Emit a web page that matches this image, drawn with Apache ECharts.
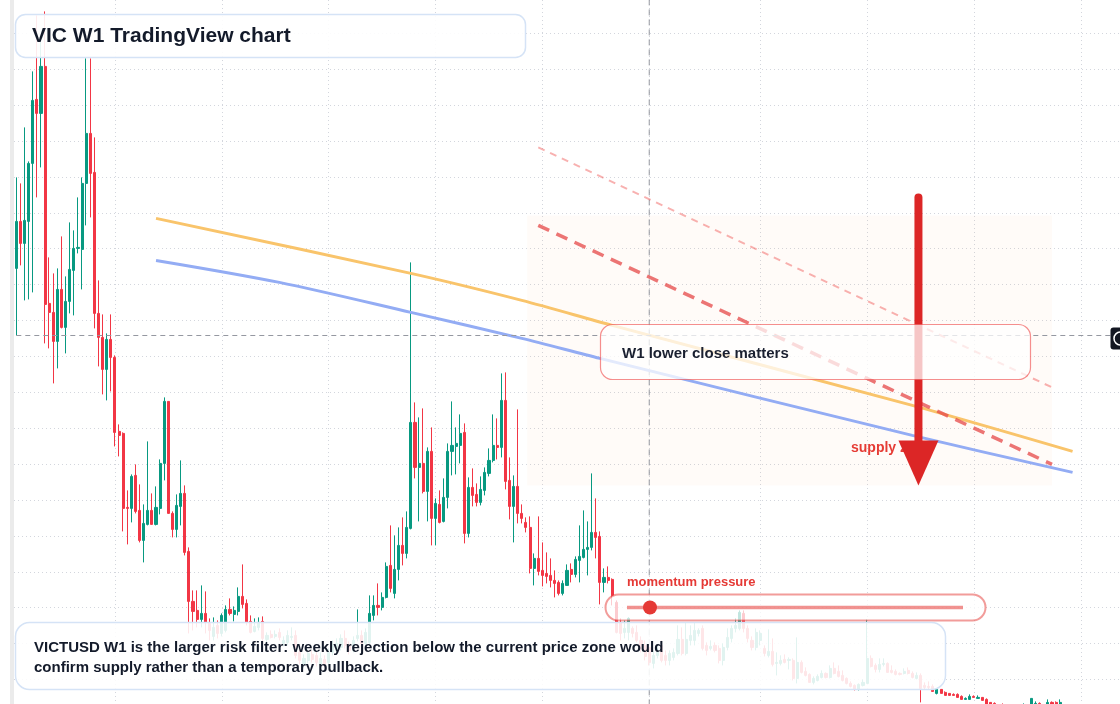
<!DOCTYPE html>
<html>
<head>
<meta charset="utf-8">
<title>VIC W1 TradingView chart</title>
<script src="https://cdn.jsdelivr.net/npm/echarts@6.0.0/dist/echarts.min.js"></script>
<style>
html,body{margin:0;padding:0;background:#fff;}
#chart{width:1120px;height:704px;}
</style>
</head>
<body>
<div id="chart"></div>
<script>
// weekly VICTUSD candles (price units are arbitrary)
var opens = [
 0.447,0.494,0.472,0.494,0.552,0.616,0.602,0.649,0.412,0.403,
 0.374,0.426,0.388,0.414,0.445,0.467,0.466,0.532,0.582,0.543,
 0.402,0.378,0.346,0.376,0.358,0.284,0.282,0.208,0.207,0.240,
 0.205,0.175,0.191,0.205,0.191,0.207,0.252,0.314,0.202,0.186,
 0.209,0.222,0.164,0.114,0.105,0.096,0.102,0.092,0.079,0.090,
 0.082,0.085,0.106,0.101,0.104,0.119,0.112,0.094,0.084,0.088,
 0.094,0.076,0.081,0.079,0.083,0.072,0.073,0.078,0.080,0.063,
 0.051,0.055,0.061,0.060,0.051,0.056,0.053,0.063,0.065,0.068,
 0.077,0.070,0.065,0.077,0.080,0.072,0.073,0.100,0.110,0.108,
 0.118,0.150,0.122,0.146,0.170,0.162,0.187,0.293,0.248,0.252,
 0.224,0.264,0.197,0.211,0.194,0.218,0.264,0.269,0.270,0.283,
 0.182,0.228,0.221,0.213,0.225,0.242,0.255,0.270,0.268,0.315,
 0.235,0.209,0.229,0.202,0.193,0.188,0.147,0.157,0.145,0.142,
 0.140,0.135,0.133,0.122,0.130,0.146,0.141,0.155,0.158,0.166,
 0.168,0.183,0.179,0.133,0.138,0.136,0.113,0.093,0.083,0.083,
 0.087,0.083,0.075,0.070,0.068,0.052,0.060,0.070,0.060,0.055,
 0.058,0.062,0.076,0.062,0.075,0.075,0.082,0.087,0.070,0.067,
 0.070,0.067,0.055,0.068,0.077,0.087,0.087,0.102,0.087,0.075,
 0.068,0.075,0.067,0.060,0.064,0.052,0.052,0.056,0.055,0.055,
 0.037,0.053,0.044,0.041,0.033,0.035,0.038,0.042,0.038,0.047,
 0.044,0.040,0.037,0.032,0.030,0.026,0.030,0.032,0.057,0.050,
 0.046,0.051,0.052,0.045,0.044,0.042,0.042,0.045,0.042,0.037,
 0.040,0.030,0.029,0.029,0.022,0.026,0.023,0.022,0.021,0.021,
 0.019,0.016,0.016,0.019,0.017,0.018,0.016,0.013,0.012,0.010,
 0.009,0.006,0.008,0.007,0.005,0.006,0.010,0.007,0.011,0.012,
 0.010,0.009,0.013,0.013,0.010
];
var closes = [
 0.494,0.472,0.495,0.552,0.615,0.602,0.649,0.411,0.403,0.374,
 0.426,0.388,0.414,0.446,0.467,0.468,0.532,0.582,0.542,0.402,
 0.378,0.346,0.376,0.358,0.283,0.280,0.207,0.207,0.239,0.204,
 0.175,0.192,0.205,0.191,0.208,0.252,0.314,0.202,0.186,0.210,
 0.222,0.163,0.114,0.104,0.096,0.102,0.093,0.085,0.088,0.082,
 0.100,0.106,0.102,0.105,0.119,0.111,0.093,0.083,0.089,0.093,
 0.077,0.080,0.078,0.081,0.078,0.075,0.080,0.079,0.060,0.055,
 0.057,0.062,0.056,0.053,0.057,0.050,0.063,0.070,0.072,0.077,
 0.070,0.065,0.075,0.080,0.072,0.083,0.102,0.110,0.108,0.118,
 0.149,0.127,0.146,0.170,0.162,0.188,0.293,0.248,0.252,0.224,
 0.264,0.197,0.212,0.193,0.218,0.264,0.270,0.272,0.282,0.182,
 0.228,0.220,0.213,0.226,0.243,0.255,0.270,0.268,0.315,0.234,
 0.209,0.229,0.202,0.197,0.188,0.147,0.157,0.144,0.140,0.139,
 0.135,0.132,0.122,0.132,0.145,0.141,0.156,0.159,0.166,0.168,
 0.183,0.178,0.133,0.138,0.135,0.120,0.083,0.082,0.087,0.097,
 0.082,0.075,0.067,0.059,0.053,0.060,0.065,0.055,0.055,0.062,
 0.063,0.076,0.062,0.076,0.080,0.085,0.085,0.067,0.065,0.069,
 0.065,0.055,0.068,0.078,0.087,0.090,0.103,0.087,0.077,0.068,
 0.083,0.082,0.062,0.064,0.051,0.053,0.055,0.053,0.056,0.037,
 0.053,0.043,0.040,0.033,0.037,0.039,0.042,0.038,0.047,0.042,
 0.039,0.035,0.032,0.029,0.026,0.031,0.033,0.057,0.049,0.046,
 0.051,0.052,0.043,0.043,0.041,0.041,0.044,0.042,0.038,0.040,
 0.027,0.028,0.028,0.024,0.026,0.022,0.020,0.020,0.020,0.018,
 0.016,0.017,0.019,0.018,0.018,0.015,0.011,0.011,0.009,0.007,
 0.008,0.008,0.006,0.005,0.007,0.010,0.008,0.017,0.012,0.009,
 0.007,0.013,0.011,0.010,0.013
];
var lows = [
 0.380,0.450,0.415,0.416,0.423,0.518,0.548,0.372,0.367,0.332,
 0.347,0.387,0.362,0.402,0.400,0.462,0.426,0.490,0.498,0.387,
 0.349,0.321,0.315,0.324,0.269,0.259,0.184,0.171,0.193,0.202,
 0.173,0.153,0.190,0.191,0.190,0.201,0.235,0.202,0.178,0.178,
 0.190,0.160,0.082,0.085,0.088,0.088,0.082,0.075,0.075,0.077,
 0.079,0.083,0.100,0.094,0.100,0.107,0.090,0.082,0.083,0.085,
 0.073,0.073,0.077,0.077,0.075,0.069,0.070,0.075,0.057,0.051,
 0.047,0.052,0.053,0.049,0.047,0.047,0.049,0.060,0.061,0.065,
 0.067,0.061,0.063,0.074,0.069,0.069,0.070,0.095,0.100,0.105,
 0.117,0.123,0.117,0.135,0.150,0.157,0.186,0.237,0.194,0.222,
 0.194,0.170,0.170,0.192,0.193,0.207,0.240,0.241,0.252,0.172,
 0.178,0.209,0.209,0.210,0.220,0.239,0.253,0.256,0.258,0.226,
 0.196,0.173,0.192,0.192,0.183,0.142,0.130,0.140,0.129,0.132,
 0.128,0.118,0.120,0.120,0.130,0.133,0.138,0.133,0.157,0.140,
 0.165,0.157,0.111,0.123,0.132,0.110,0.082,0.075,0.077,0.075,
 0.078,0.073,0.063,0.055,0.050,0.047,0.057,0.053,0.050,0.050,
 0.055,0.060,0.060,0.060,0.070,0.070,0.079,0.065,0.060,0.065,
 0.063,0.052,0.050,0.065,0.073,0.083,0.085,0.083,0.073,0.065,
 0.065,0.070,0.059,0.058,0.049,0.040,0.050,0.052,0.046,0.035,
 0.032,0.042,0.039,0.033,0.031,0.034,0.037,0.037,0.037,0.041,
 0.038,0.034,0.031,0.028,0.025,0.025,0.029,0.032,0.048,0.043,
 0.043,0.049,0.043,0.042,0.040,0.040,0.041,0.041,0.037,0.036,
 0.013,0.026,0.026,0.024,0.021,0.022,0.020,0.020,0.020,0.018,
 0.016,0.016,0.016,0.018,0.017,0.015,0.011,0.009,0.007,0.005,
 0.006,0.005,0.004,0.003,0.004,0.005,0.006,0.006,0.009,0.007,
 0.005,0.008,0.009,0.008,0.009
];
var highs = [
 0.538,0.532,0.588,0.554,0.644,0.700,0.675,0.704,0.458,0.442,
 0.447,0.479,0.439,0.493,0.485,0.518,0.538,0.657,0.657,0.578,
 0.435,0.401,0.382,0.401,0.360,0.291,0.283,0.225,0.241,0.251,
 0.231,0.211,0.274,0.222,0.229,0.256,0.318,0.314,0.204,0.221,
 0.255,0.230,0.168,0.125,0.125,0.130,0.124,0.097,0.098,0.095,
 0.102,0.110,0.117,0.109,0.128,0.151,0.116,0.100,0.097,0.098,
 0.099,0.083,0.085,0.085,0.087,0.079,0.085,0.088,0.085,0.067,
 0.061,0.066,0.065,0.064,0.063,0.060,0.067,0.075,0.077,0.081,
 0.085,0.074,0.079,0.106,0.085,0.087,0.120,0.120,0.132,0.123,
 0.153,0.190,0.180,0.188,0.198,0.204,0.453,0.313,0.298,0.307,
 0.268,0.288,0.217,0.225,0.237,0.272,0.314,0.288,0.301,0.292,
 0.238,0.247,0.232,0.239,0.248,0.267,0.301,0.297,0.342,0.343,
 0.258,0.240,0.306,0.211,0.198,0.199,0.162,0.199,0.173,0.163,
 0.157,0.145,0.135,0.135,0.151,0.152,0.159,0.190,0.205,0.194,
 0.242,0.217,0.184,0.147,0.149,0.137,0.115,0.097,0.095,0.098,
 0.089,0.090,0.079,0.075,0.071,0.065,0.070,0.075,0.065,0.065,
 0.067,0.090,0.088,0.093,0.090,0.093,0.087,0.090,0.073,0.075,
 0.073,0.070,0.072,0.087,0.090,0.097,0.105,0.105,0.090,0.079,
 0.087,0.085,0.070,0.086,0.077,0.063,0.060,0.061,0.058,0.057,
 0.078,0.055,0.048,0.042,0.039,0.041,0.045,0.043,0.050,0.053,
 0.050,0.045,0.038,0.034,0.031,0.032,0.036,0.096,0.060,0.052,
 0.057,0.057,0.053,0.050,0.046,0.043,0.047,0.048,0.044,0.043,
 0.042,0.033,0.034,0.031,0.027,0.026,0.024,0.022,0.022,0.022,
 0.020,0.018,0.021,0.020,0.020,0.018,0.017,0.013,0.013,0.011,
 0.012,0.010,0.010,0.009,0.009,0.012,0.011,0.017,0.014,0.013,
 0.011,0.016,0.014,0.014,0.016
];

var totalSlots = 269;           // 255 weeks + empty right margin
var gridWeeks = [24, 50, 76, 102, 128, 154, 181, 207, 233, 259]; // half-year grid lines
var priceStep = 0.0359, priceMin = 0.0359, priceMax = 0.6821;     // visible grid rows
var crossWeek = 154, crossPrice = 0.377;

// drawings, as [week index, price]
var orangeLine = [[34, 0.497], [96, 0.442], [123, 0.415], [145, 0.390], [218, 0.310], [257, 0.264]];
var blueLine = [[34, 0.455], [64, 0.433], [96, 0.403], [123, 0.377], [142, 0.357], [218, 0.280], [257, 0.243]];
var pinkDash = [[127, 0.568], [252, 0.328]];
var redDash = [[127, 0.490], [252, 0.251]];
var zoneWeeks = [124.3, 252], zonePrices = [0.500, 0.230];
var arrowShaft = [[219.5, 0.518], [219.5, 0.272]];
var arrowHead = [[219.5, 0.2525]];
var crossV = [[crossWeek, -0.05], [crossWeek, 0.75]];

var weeks = [];
var start = Date.UTC(2021, 10, 15);
for (var i = 0; i < totalSlots; i++) {
    weeks.push(new Date(start + i * 7 * 864e5).toISOString().slice(0, 10));
}
var candles = opens.map(function (o, i) { return [o, closes[i], lows[i], highs[i]]; });

var FONT = '"Liberation Sans", Arial, sans-serif';
var dots = {color: '#d3d6dd', type: [1, 3], width: 1};
var plotLeft = 16.3, plotWidth = (totalSlots - 1) * 4.11;
var hidden = {axisLine: {show: false}, axisTick: {show: false}, axisLabel: {show: false}, splitLine: {show: false}};

var chart = echarts.init(document.getElementById('chart'));
chart.setOption({
    animation: false,
    grid: [
        {left: plotLeft, top: 33.3, height: 646.2, width: plotWidth},   // price pane
        {left: 14, right: 0, top: 33.3, height: 646.2},                  // horizontal grid rows
        {left: plotLeft, top: 0, height: 704, width: plotWidth}          // vertical grid lines, full height
    ],
    xAxis: [
        Object.assign({type: 'category', data: weeks, boundaryGap: false, gridIndex: 0}, hidden),
        Object.assign({type: 'value', min: 0, max: totalSlots - 1, gridIndex: 0, show: false}, hidden),
        Object.assign({type: 'value', min: 0, max: 1, gridIndex: 1}, hidden),
        Object.assign({type: 'category', data: weeks, boundaryGap: false, gridIndex: 2}, hidden,
            {splitLine: {show: true, interval: function (idx) { return gridWeeks.indexOf(idx) >= 0; }, lineStyle: dots}})
    ],
    yAxis: [
        Object.assign({type: 'value', min: priceMin, max: priceMax, interval: priceStep, gridIndex: 0}, hidden),
        Object.assign({type: 'value', min: priceMin, max: priceMax, interval: priceStep, gridIndex: 1}, hidden,
            {splitLine: {show: true, lineStyle: dots}}),
        Object.assign({type: 'value', min: 0, max: 1, gridIndex: 2}, hidden)
    ],
    series: [{
        type: 'candlestick', data: candles, barWidth: 2.6, clip: false, z: 3,
        itemStyle: {color: '#089981', color0: '#f23645', borderColor: '#089981', borderColor0: '#f23645', borderWidth: 1},
        markLine: {
            silent: true, symbol: 'none', label: {show: false},
            lineStyle: {color: '#9598a1', type: [5, 4], width: 1},
            data: [{yAxis: crossPrice}]
        }
    }, {
        type: 'line', xAxisIndex: 1, data: crossV, symbol: 'none', silent: true, clip: false, z: 3,
        lineStyle: {color: '#9598a1', type: [6, 4], width: 1}
    }, {
        type: 'line', xAxisIndex: 1, data: pinkDash, symbol: 'none', silent: true, z: 4,
        lineStyle: {color: 'rgba(239,83,80,0.45)', width: 2, type: [7, 6]},
        markArea: {
            silent: true, itemStyle: {color: 'rgba(251,146,60,0.035)'},
            data: [[{coord: [zoneWeeks[0], zonePrices[0]]}, {coord: [zoneWeeks[1], zonePrices[1]]}]]
        }
    }, {
        type: 'line', xAxisIndex: 1, data: orangeLine, symbol: 'none', smooth: 0.3, silent: true, z: 4,
        lineStyle: {color: '#f9c46b', width: 3}
    }, {
        type: 'line', xAxisIndex: 1, data: blueLine, symbol: 'none', smooth: 0.3, silent: true, z: 4,
        lineStyle: {color: '#93acf4', width: 3}
    }, {
        type: 'line', xAxisIndex: 1, data: redDash, symbol: 'none', silent: true, z: 4,
        lineStyle: {color: 'rgba(229,72,72,0.75)', width: 3.5, type: [12, 8]}
    }, {
        type: 'line', xAxisIndex: 1, data: arrowShaft, symbol: 'none', silent: true, z: 6,
        lineStyle: {color: '#dc2626', width: 8, cap: 'round'}
    }, {
        type: 'scatter', xAxisIndex: 1, data: arrowHead, symbol: 'triangle', symbolRotate: 180,
        symbolSize: [40, 45], silent: true, z: 6, itemStyle: {color: '#dc2626', opacity: 1}
    }],
    graphic: [
        {type: 'rect', silent: true, z: 1, shape: {x: 10, y: 0, width: 4, height: 704}, style: {fill: '#ebebeb'}},
        {type: 'text', silent: true, z: 1, x: 851, y: 448,
            style: {text: 'supply zone', fill: '#e53935', font: 'bold 14px ' + FONT, verticalAlign: 'middle'}},
        // title card
        {type: 'rect', silent: true, z: 20, shape: {x: 15.5, y: 14.5, width: 510, height: 43, r: 10},
            style: {fill: 'rgba(255,255,255,0.9)', stroke: '#d5e3f6', lineWidth: 1.5}},
        {type: 'text', silent: true, z: 21, x: 32, y: 36.5,
            style: {text: 'VIC W1 TradingView chart', fill: '#131a2a', font: 'bold 21px ' + FONT, verticalAlign: 'middle'}},
        // note on the arrow
        {type: 'rect', silent: true, z: 20, shape: {x: 600.5, y: 324.5, width: 430, height: 55, r: 12},
            style: {fill: 'rgba(255,255,255,0.74)', stroke: 'rgba(239,68,68,0.6)', lineWidth: 1.2}},
        {type: 'text', silent: true, z: 21, x: 622, y: 353.5,
            style: {text: 'W1 lower close matters', fill: '#1a2030', font: 'bold 15px ' + FONT, verticalAlign: 'middle'}},
        // momentum gauge
        {type: 'text', silent: true, z: 21, x: 627, y: 582.5,
            style: {text: 'momentum pressure', fill: '#e53935', font: 'bold 13px ' + FONT, verticalAlign: 'middle'}},
        {type: 'rect', silent: true, z: 20, shape: {x: 605.5, y: 594.5, width: 380, height: 26, r: 13},
            style: {fill: 'rgba(255,255,255,0.75)', stroke: 'rgba(229,57,53,0.5)', lineWidth: 2}},
        {type: 'line', silent: true, z: 21, shape: {x1: 627, y1: 607.5, x2: 963, y2: 607.5},
            style: {stroke: 'rgba(229,57,53,0.55)', lineWidth: 3.5}},
        {type: 'circle', silent: true, z: 22, shape: {cx: 650, cy: 607.5, r: 7}, style: {fill: '#e53935'}},
        // bottom note
        {type: 'rect', silent: true, z: 20, shape: {x: 15.5, y: 622.5, width: 930, height: 67, r: 14},
            style: {fill: 'rgba(255,255,255,0.88)', stroke: '#d5e3f6', lineWidth: 1.5}},
        {type: 'text', silent: true, z: 21, x: 34, y: 647.5,
            style: {text: 'VICTUSD W1 is the larger risk filter: weekly rejection below the current price zone would',
                fill: '#131a2a', font: 'bold 15px ' + FONT, verticalAlign: 'middle'}},
        {type: 'text', silent: true, z: 21, x: 34, y: 667.5,
            style: {text: 'confirm supply rather than a temporary pullback.',
                fill: '#131a2a', font: 'bold 15px ' + FONT, verticalAlign: 'middle'}},
        // price badge on the crosshair, cut by the right edge
        {type: 'rect', silent: true, z: 20, shape: {x: 1110.5, y: 327.5, width: 20, height: 22, r: 3}, style: {fill: '#131722'}},
        {type: 'circle', silent: true, z: 21, shape: {cx: 1120.5, cy: 338.5, r: 6.5},
            style: {fill: 'none', stroke: '#ffffff', lineWidth: 1.5}}
    ]
});
</script>
</body>
</html>
